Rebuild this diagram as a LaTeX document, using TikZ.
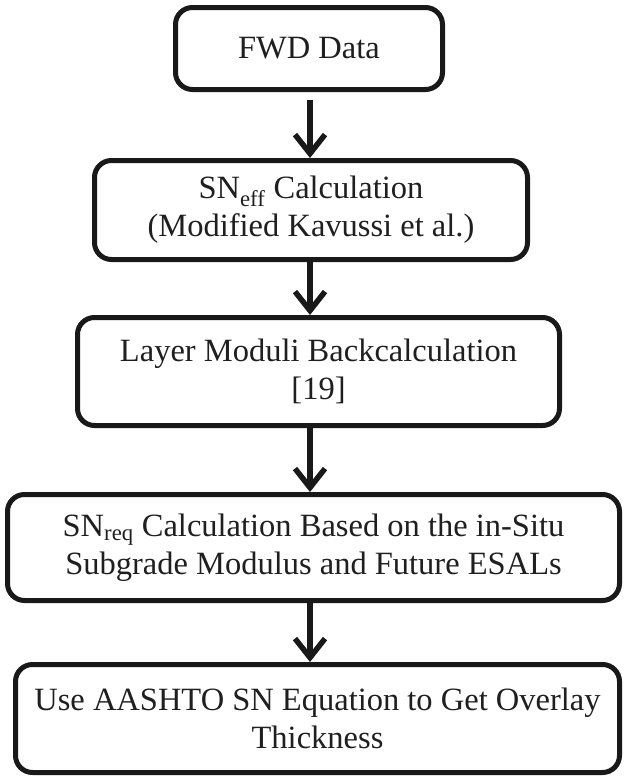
\documentclass[tikz,border=0pt]{standalone}
\usepackage{fontspec}
\setmainfont{Liberation Serif}
\usetikzlibrary{arrows.meta}
\begin{document}
\begin{tikzpicture}[x=1pt,y=1pt,
  stepbox/.style={draw=black!90, line width=5pt, rounded corners=17pt, inner sep=0pt,
    align=center, font=\fontsize{32.5}{38}\selectfont, text=black!88},
  flowarrow/.style={draw=black!90, line width=5.5pt,
    -{Straight Barb[length=19pt,width=30pt,line width=5.5pt]}}]
\useasboundingbox (0,0) rectangle (624,-777);
\node[stepbox, minimum width=267pt, minimum height=82pt] (b1) at (309,-48.5) {FWD Data};
\node[stepbox, minimum width=433pt, minimum height=99pt] (b2) at (311,-210) {SN\textsubscript{eff} Calculation\\(Modified Kavussi et al.)};
\node[stepbox, minimum width=482pt, minimum height=108pt] (b3) at (318.5,-371.5) {Layer Moduli Backcalculation\\{}[19]};
\node[stepbox, minimum width=612pt, minimum height=106pt] (b4) at (313.5,-547.5) {SN\textsubscript{req} Calculation Based on the in-Situ\\Subgrade Modulus and Future ESALs};
\node[stepbox, minimum width=604pt, minimum height=108pt] (b5) at (317.5,-718.5) {Use AASHTO SN Equation to Get Overlay\\Thickness};
\coordinate (ax) at (310,0);
\draw[flowarrow, shorten <=8pt] (b1.south -| ax) -- (b2.north -| ax);
\draw[flowarrow] (b2.south -| ax) -- (b3.north -| ax);
\draw[flowarrow] (b3.south -| ax) -- (b4.north -| ax);
\draw[flowarrow] (b4.south -| ax) -- (b5.north -| ax);
\end{tikzpicture}
\end{document}
